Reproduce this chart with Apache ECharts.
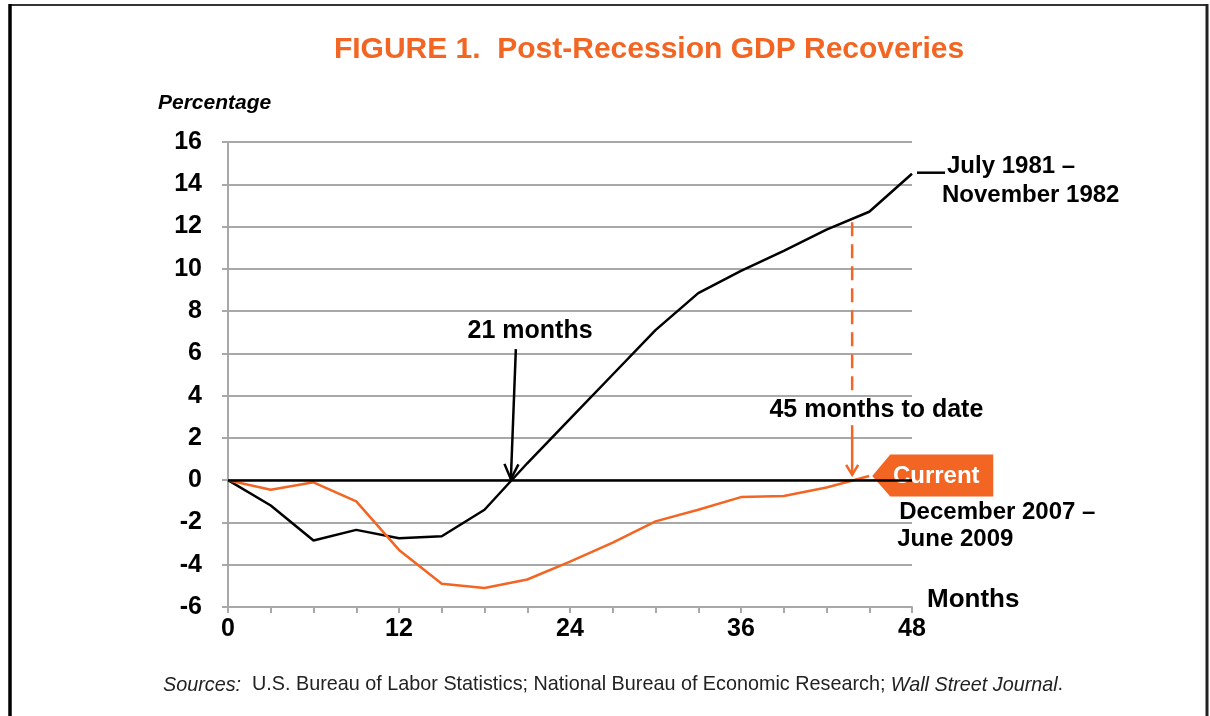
<!DOCTYPE html>
<html>
<head>
<meta charset="utf-8">
<script src="https://cdn.jsdelivr.net/npm/echarts@6/dist/echarts.min.js"></script>
<style>
  html, body { margin: 0; padding: 0; background: #fff; }
  #chart { width: 1210px; height: 716px; }
</style>
</head>
<body>
<div id="chart"></div>
<script>
// months after the start of each recession (quarterly points)
const months = [0, 3, 6, 9, 12, 15, 18, 21, 24, 27, 30, 33, 36, 39, 42, 45, 48];
// July 1981 - November 1982 recovery, % change in GDP
const recovery1981 = [0, -1.2, -2.85, -2.35, -2.75, -2.65, -1.4, 0.8, 2.9, 5.0, 7.1, 8.85, 9.9, 10.85, 11.85, 12.7, 14.5];
// December 2007 - June 2009 recovery (45 months to date)
const recovery2007 = [0, -0.45, -0.1, -1.0, -3.3, -4.9, -5.1, -4.7, -3.85, -2.95, -1.95, -1.4, -0.8, -0.75, -0.35, 0.2];
const xLabels = [0, 12, 24, 36, 48];

const orange = '#f26522';
const font = 'Liberation Sans, Arial, sans-serif';

const myChart = echarts.init(document.getElementById('chart'));

myChart.setOption({
  animation: false,
  backgroundColor: '#fff',
  grid: { left: 228, top: 142, width: 684, height: 465 },
  xAxis: {
    type: 'value',
    min: 0,
    max: 48,
    interval: 3,
    axisLine: { onZero: false, lineStyle: { color: '#a8a8a8', width: 2 } },
    axisTick: { show: true, length: 6, lineStyle: { color: '#a8a8a8', width: 2 } },
    splitLine: { show: false },
    axisLabel: {
      margin: 10,
      color: '#000',
      fontFamily: font,
      fontWeight: 'bold',
      fontSize: 25,
      formatter: v => (xLabels.indexOf(v) >= 0 ? String(v) : '')
    }
  },
  yAxis: {
    type: 'value',
    min: -6,
    max: 16,
    interval: 2,
    axisLine: { show: true, onZero: false, lineStyle: { color: '#a8a8a8', width: 2 } },
    axisTick: { show: true, length: 6, lineStyle: { color: '#a8a8a8', width: 2 } },
    splitLine: { show: true, lineStyle: { color: '#a8a8a8', width: 2 } },
    axisLabel: {
      margin: 26,
      color: '#000',
      fontFamily: font,
      fontWeight: 'bold',
      fontSize: 25
    }
  },
  series: [
    {
      name: 'July 1981 – November 1982',
      type: 'line',
      symbol: 'none',
      lineStyle: { color: '#000', width: 2.5 },
      data: recovery1981.map((v, i) => [months[i], v]),
      markLine: {
        silent: true,
        symbol: 'none',
        label: { show: false },
        lineStyle: { color: '#000', width: 2.5, type: 'solid' },
        data: [{ yAxis: 0 }]
      }
    },
    {
      name: 'December 2007 – June 2009',
      type: 'line',
      symbol: 'none',
      lineStyle: { color: orange, width: 2.5 },
      data: recovery2007.map((v, i) => [months[i], v])
    }
  ]
});

// annotations, placed from data coordinates
const px = p => myChart.convertToPixel({ gridIndex: 0 }, p);

function arrowHead(from, tip, len, wid, color) {
  const dx = tip[0] - from[0], dy = tip[1] - from[1];
  const d = Math.sqrt(dx * dx + dy * dy);
  const ux = dx / d, uy = dy / d;
  return {
    type: 'polyline',
    shape: { points: [
      [tip[0] - ux * len - uy * wid, tip[1] - uy * len + ux * wid],
      tip,
      [tip[0] - ux * len + uy * wid, tip[1] - uy * len - ux * wid]
    ] },
    style: { stroke: color, lineWidth: 2.5, fill: null }
  };
}

const end81 = px([months[recovery1981.length - 1], recovery1981[recovery1981.length - 1]]);
const end07 = px([months[recovery2007.length - 1], recovery2007[recovery2007.length - 1]]);

const a21from = px([20.2, 6.2]);
const a21tip = px([19.85, 0.05]);
const dashTop = px([43.8, 12.2]);
const dashBot = px([43.8, 4.2]);
const a45from = px([43.8, 2.6]);
const a45tip = px([43.8, 0.25]);
const lbl21 = px([21.2, 7.05]);
const lbl45 = px([45.5, 3.3]);

const boldText = (x, y, text, size, extra) => ({
  type: 'text',
  x: x, y: y,
  style: Object.assign({
    text: text,
    font: 'bold ' + size + 'px ' + font,
    fill: '#000',
    textAlign: 'left',
    textVerticalAlign: 'middle'
  }, extra || {})
});

const graphics = [
  // frame
  { type: 'line', shape: { x1: 9, y1: 5, x2: 1208, y2: 5 }, style: { stroke: '#333', lineWidth: 2 } },
  { type: 'line', shape: { x1: 10, y1: 4, x2: 10, y2: 716 }, style: { stroke: '#000', lineWidth: 3.5 } },
  { type: 'line', shape: { x1: 1207, y1: 4, x2: 1207, y2: 716 }, style: { stroke: '#222', lineWidth: 3 } },
  // title
  boldText(649, 50, 'FIGURE 1.  Post-Recession GDP Recoveries', 30, { fill: orange, textAlign: 'center' }),
  boldText(158, 103, 'Percentage', 21, { font: 'italic bold 21px ' + font }),
  boldText(927, 600, 'Months', 26),
  // 21 months arrow
  { type: 'line', shape: { x1: a21from[0], y1: a21from[1], x2: a21tip[0], y2: a21tip[1] }, style: { stroke: '#000', lineWidth: 2.5 } },
  arrowHead(a21from, a21tip, 15, 7, '#000'),
  boldText(lbl21[0], lbl21[1], '21 months', 25, { textAlign: 'center' }),
  // 45 months to date
  { type: 'line', shape: { x1: dashTop[0], y1: dashTop[1], x2: dashBot[0], y2: dashBot[1] }, style: { stroke: orange, lineWidth: 2.5, lineDash: [14, 8] } },
  { type: 'line', shape: { x1: a45from[0], y1: a45from[1], x2: a45tip[0], y2: a45tip[1] }, style: { stroke: orange, lineWidth: 2.5 } },
  arrowHead(a45from, a45tip, 10, 6, orange),
  boldText(lbl45[0], lbl45[1], '45 months to date', 25, { textAlign: 'center' }),
  // series labels
  { type: 'line', shape: { x1: end81[0] + 5, y1: end81[1] - 1, x2: end81[0] + 33, y2: end81[1] - 1 }, style: { stroke: '#000', lineWidth: 2.5 } },
  boldText(end81[0] + 35, end81[1] - 7, 'July 1981 –', 24),
  boldText(end81[0] + 30, end81[1] + 22, 'November 1982', 24),
  {
    type: 'polygon',
    shape: { points: [
      [end07[0] + 3, end07[1]],
      [end07[0] + 21, end07[1] - 21.5],
      [end07[0] + 124, end07[1] - 21.5],
      [end07[0] + 124, end07[1] + 20.5],
      [end07[0] + 21, end07[1] + 20.5]
    ] },
    style: { fill: orange }
  },
  boldText(end07[0] + 67, end07[1], 'Current', 24, { fill: '#fff', textAlign: 'center' }),
  boldText(end07[0] + 30, end07[1] + 36, 'December 2007 –', 24),
  boldText(end07[0] + 28, end07[1] + 63, 'June 2009', 24),
  // source note
  {
    type: 'text',
    x: 163, y: 685,
    style: {
      text: '{i|Sources:}  U.S. Bureau of Labor Statistics; National Bureau of Economic Research; {i|Wall Street Journal}.',
      font: '19.8px ' + font,
      fill: '#222',
      textVerticalAlign: 'middle',
      rich: { i: { fontStyle: 'italic', fontSize: 19.8, fontFamily: font, fill: '#222' } }
    }
  }
];

myChart.setOption({ graphic: graphics });
</script>
</body>
</html>
